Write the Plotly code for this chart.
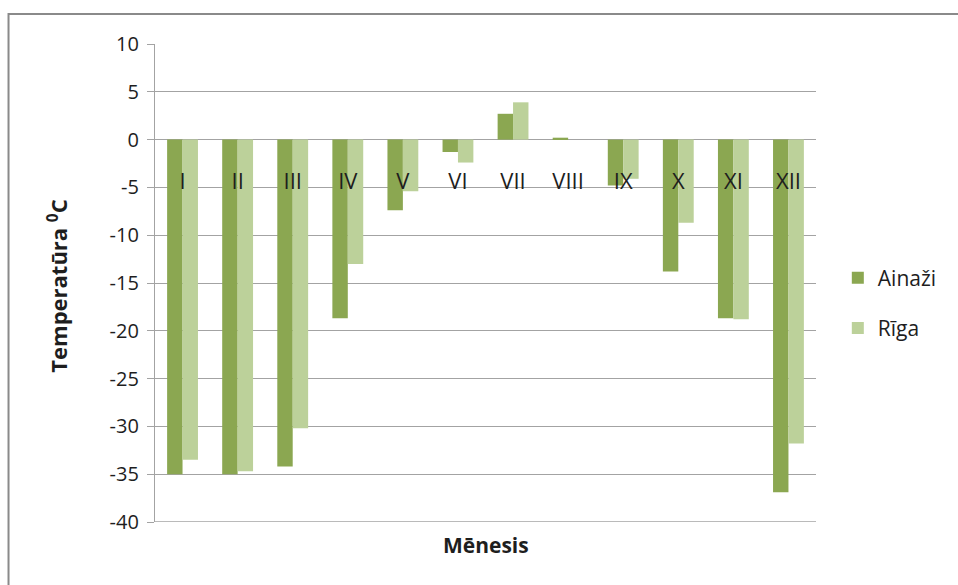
import plotly.graph_objects as go

# Monthly minimum temperatures, two stations
months = ["I", "II", "III", "IV", "V", "VI", "VII", "VIII", "IX", "X", "XI", "XII"]
ainazi = [-35.0, -35.0, -34.2, -18.7, -7.4, -1.3, 2.7, 0.2, -4.8, -13.8, -18.7, -36.9]
riga = [-33.5, -34.7, -30.2, -13.0, -5.4, -2.4, 3.9, 0.0, -4.1, -8.7, -18.8, -31.8]

y_ticks = list(range(10, -45, -5))

FONT = "Open Sans"
TEXT = "#1e1e1e"
GRID = "#a3a3a3"

fig = go.Figure()
fig.add_trace(go.Bar(x=months, y=ainazi, name="Ainaži", marker_color="#8BA751",
                     marker_line_width=0, legendgroup="a"))
fig.add_trace(go.Bar(x=months, y=riga, name="Rīga", marker_color="#BCD19A",
                     marker_line_width=0, legendgroup="b"))

fig.update_layout(
    width=958, height=585,
    margin=dict(l=155, r=142, t=44, b=63),
    paper_bgcolor="white", plot_bgcolor="white",
    font=dict(family=FONT, color=TEXT),
    barmode="group", bargap=0.44, bargroupgap=0,
    showlegend=True,
    legend=dict(x=1.033, xanchor="left", y=0.458, yanchor="middle",
                xref="paper", yref="paper",
                font=dict(size=21, family=FONT, color=TEXT),
                traceorder="grouped", tracegroupgap=20,
                bgcolor="rgba(0,0,0,0)"),
)

# Category labels sit just under the zero line, like a crossing axis
fig.update_xaxes(
    type="category", range=[-0.5, 11.5],
    anchor="free", position=0.8,
    showline=False, showgrid=False, zeroline=False, ticks="",
    tickfont=dict(size=22, family=FONT, color=TEXT),
    ticklabelstandoff=26,
)

fig.update_yaxes(
    range=[-40, 10], tickvals=y_ticks, ticktext=[str(v) for v in y_ticks],
    showgrid=True, gridcolor=GRID, gridwidth=1.3,
    zeroline=True, zerolinecolor=GRID, zerolinewidth=1.3,
    showline=True, linecolor=GRID, linewidth=1.3,
    ticks="outside", ticklen=7, tickcolor=GRID, tickwidth=1.3,
    tickfont=dict(size=20, family=FONT, color=TEXT),
    ticklabelstandoff=4,
)

# Bottom gridline at -40
fig.add_shape(type="line", xref="paper", yref="y", x0=0, x1=1, y0=-40, y1=-40,
              line=dict(color=GRID, width=1.3))

# Axis titles
fig.add_annotation(text="Mēnesis", xref="paper", yref="paper", x=0.5, y=-0.048,
                   xanchor="center", yanchor="middle", showarrow=False,
                   font=dict(size=21, family=FONT, color=TEXT, weight="bold"))
fig.add_annotation(text="Temperatūra <sup>0</sup>C", xref="paper", yref="paper",
                   x=-0.147, y=0.494, xanchor="center", yanchor="middle",
                   textangle=-90, showarrow=False,
                   font=dict(size=22, family=FONT, color=TEXT, weight="bold"))

# Chart frame
fig.add_shape(type="rect", xref="paper", yref="paper",
              x0=-0.2216, x1=1.25, y0=-0.2, y1=1.0628,
              line=dict(color="#8a8a8a", width=2), layer="below")

fig.write_html("out.html")
